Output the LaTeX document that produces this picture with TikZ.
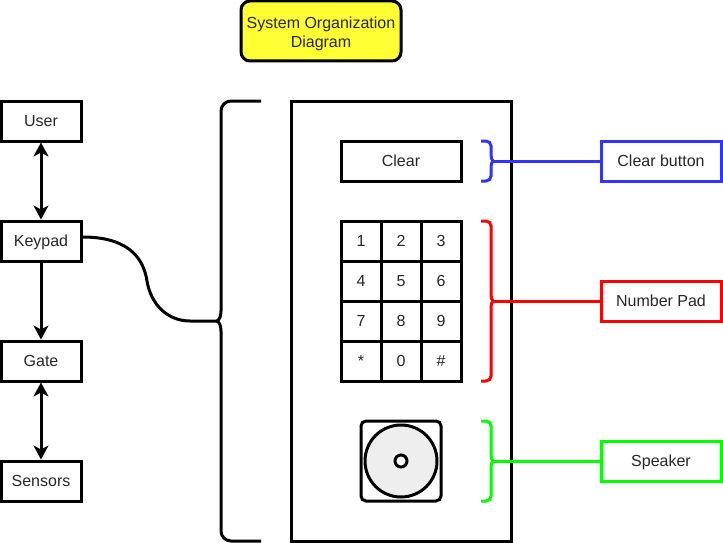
\documentclass[tikz,border=0pt]{standalone}
\usepackage{fontspec}
\setmainfont{Liberation Sans}
\usetikzlibrary{arrows.meta}
\definecolor{panelblue}{HTML}{3333FF}
\definecolor{panelgreen}{HTML}{00FF00}
\definecolor{titleyellow}{HTML}{FFFF33}
\definecolor{conegray}{HTML}{EEEEEE}
\tikzset{
    box/.style={draw,line width=3pt,minimum width=80pt,minimum height=40pt,inner sep=0pt,align=center,text=black!85,text height=14pt,text depth=3pt},
    key/.style={box,minimum width=40pt},
    label/.style={box,minimum width=120pt},
    tip/.style={-{Stealth[length=14pt,width=15pt,inset=4pt]},line width=3pt},
    both/.style={{Stealth[length=14pt,width=15pt,inset=4pt]}-{Stealth[length=14pt,width=15pt,inset=4pt]},line width=3pt},
    brace/.style={line width=3pt}
}
\begin{document}
\begin{tikzpicture}[x=1pt,y=-1pt,font=\fontsize{16pt}{19pt}\selectfont]
    \useasboundingbox (0,0) rectangle (723,543);
    % Title
    \node [draw,line width=3pt,inner sep=0pt,align=center,text=black!85,fill=titleyellow,rounded corners=9pt,minimum width=160pt,minimum height=60pt] (title) at (321,31) {\rule{0pt}{17pt}System Organization\\Diagram};
    % Blocks
    \node [box] (user) at (41,121) {User};
    \node [box] (keypad) at (41,241) {Keypad};
    \node [box] (gate) at (41,361) {Gate};
    \node [box] (sensors) at (41,481) {Sensors};
    \draw [both] (user) -- (keypad);
    \draw [tip] (keypad) -- (gate);
    \draw [both] (gate) -- (sensors);
    % Blue and red labels
    \coordinate (cleartip) at (493,161);
    \coordinate (padtip) at (493,301);
    \coordinate (speakertip) at (493,461);
    \node [label,draw=panelblue] (clearlabel) at (661,161) {Clear button};
    \node [label,draw=red] (padlabel) at (661,301) {Number Pad};
    \node [label,draw=panelgreen] (speakerlabel) at (661,461) {Speaker};
    % Panel
    \draw [line width=3pt] (291,101) rectangle (511,541);
    \draw [brace,panelblue] (481,141) -- (486,141) arc (-90:0:5) -- (491,155) .. controls (491,158) and (492,160) .. (cleartip) .. controls (492,162) and (491,164) .. (491,167) -- (491,176) arc (0:90:5) -- (481,181);
    \draw [brace,red] (481,221) -- (486,221) arc (-90:0:5) -- (491,295) .. controls (491,298) and (492,300) .. (padtip) .. controls (492,302) and (491,304) .. (491,307) -- (491,376) arc (0:90:5) -- (481,381);
    \draw [brace,panelblue] (cleartip) -- (clearlabel);
    \draw [brace,red] (padtip) -- (padlabel);
    \draw [brace,panelgreen] (481,421) -- (486,421) arc (-90:0:5) -- (491,455) .. controls (491,458) and (492,460) .. (speakertip) .. controls (492,462) and (491,464) .. (491,467) -- (491,496) arc (0:90:5) -- (481,501);
    \draw [brace,panelgreen] (speakertip) -- (speakerlabel);
    % Big bracket
    \coordinate (bigtip) at (217,321);
    \draw [brace] (261,101) -- (231,101) arc (270:180:10) -- (221,311) .. controls (221,317) and (219,320) .. (bigtip) .. controls (219,322) and (221,325) .. (221,331) -- (221,531) arc (180:90:10) -- (261,541);
    \draw [brace] (keypad.east |- 0,237) .. controls (125,237) and (143,255) .. (147,281) .. controls (151,305) and (168,321) .. (190,321) -- (bigtip);
    % Keys
    \node [box,minimum width=120pt] (clear) at (401,161) {Clear};
    \node [key] (one) at (361,241) {1};
    \node [key] (two) at (401,241) {2};
    \node [key] (three) at (441,241) {3};
    \node [key] (four) at (361,281) {4};
    \node [key] (five) at (401,281) {5};
    \node [key] (six) at (441,281) {6};
    \node [key] (seven) at (361,321) {7};
    \node [key] (eight) at (401,321) {8};
    \node [key] (nine) at (441,321) {9};
    \node [key] (star) at (361,361) {*};
    \node [key] (zero) at (401,361) {0};
    \node [key] (hash) at (441,361) {\#};
    % Speaker
    \draw [line width=3pt,rounded corners=5pt] (361,421) rectangle (441,501);
    \filldraw [line width=3pt,fill=conegray] (401,461) circle (36);
    \filldraw [line width=3pt,fill=white] (401,461) circle (6);
\end{tikzpicture}
\end{document}
